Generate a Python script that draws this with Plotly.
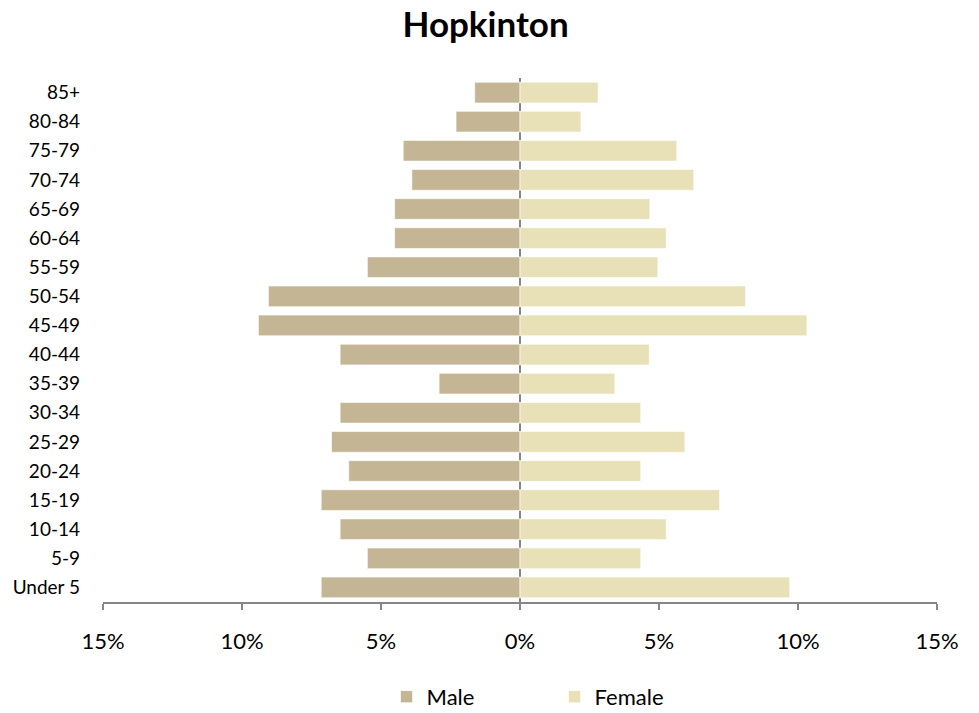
import plotly.graph_objects as go

age_groups = ["Under 5", "5-9", "10-14", "15-19", "20-24", "25-29", "30-34", "35-39",
              "40-44", "45-49", "50-54", "55-59", "60-64", "65-69", "70-74", "75-79",
              "80-84", "85+"]
male_pct = [7.15, 5.49, 6.47, 7.15, 6.16, 6.78, 6.47, 2.91,
            6.47, 9.41, 9.05, 5.49, 4.51, 4.51, 3.89, 4.20, 2.30, 1.63]
female_pct = [9.70, 4.34, 5.26, 7.18, 4.34, 5.93, 4.34, 3.41,
              4.65, 10.32, 8.11, 4.96, 5.26, 4.67, 6.25, 5.64, 2.19, 2.81]
tick_vals = [-15, -10, -5, 0, 5, 10, 15]
tick_text = ["15%", "10%", "5%", "0%", "5%", "10%", "15%"]

MALE_COLOR = "#C4B694"
FEMALE_COLOR = "#E8E1B7"
AXIS_GRAY = "#868686"
FONT = "Lato, 'Open Sans', sans-serif"

fig = go.Figure()
fig.add_trace(go.Bar(
    y=age_groups, x=[-v for v in male_pct], orientation="h", name="Male",
    marker=dict(color=MALE_COLOR, line=dict(color="rgba(255,255,255,0.6)", width=1)),
    hoverinfo="skip",
))
fig.add_trace(go.Bar(
    y=age_groups, x=female_pct, orientation="h", name="Female",
    marker=dict(color=FEMALE_COLOR, line=dict(color="rgba(255,255,255,0.6)", width=1)),
    hoverinfo="skip",
))

fig.update_layout(
    width=979, height=713,
    margin=dict(l=103, r=42, t=78, b=111, autoexpand=False),
    paper_bgcolor="white", plot_bgcolor="white",
    barmode="relative", bargap=0.29,
    font=dict(family=FONT, size=18, color="#000000"),
    title=dict(text="<b>Hopkinton</b>", x=0.496, xanchor="center", y=0.965, yanchor="middle",
               font=dict(family=FONT, size=35, color="#000000")),
    xaxis=dict(
        range=[-15, 15], tickvals=tick_vals, ticktext=tick_text, automargin=False,
        showgrid=False, zeroline=True, zerolinecolor=AXIS_GRAY, zerolinewidth=1.5,
        showline=True, linecolor=AXIS_GRAY, linewidth=1.5,
        ticks="outside", ticklen=6, tickcolor=AXIS_GRAY, tickwidth=1.5,
        ticklabelstandoff=13, tickfont=dict(size=22),
    ),
    yaxis=dict(
        showgrid=False, showline=False, zeroline=False, ticks="", automargin=False,
        ticklabelstandoff=22, tickfont=dict(size=19),
    ),
    legend=dict(
        orientation="h", x=0.340, xanchor="left", y=-0.181, yanchor="middle",
        font=dict(size=22), itemwidth=30, entrywidth=123,
        traceorder="normal",
    ),
)

# remove the page's default body margin so the figure fills the window exactly
fig.write_html("out.html", config={"displayModeBar": False},
               post_script="document.body.style.margin='0';")
